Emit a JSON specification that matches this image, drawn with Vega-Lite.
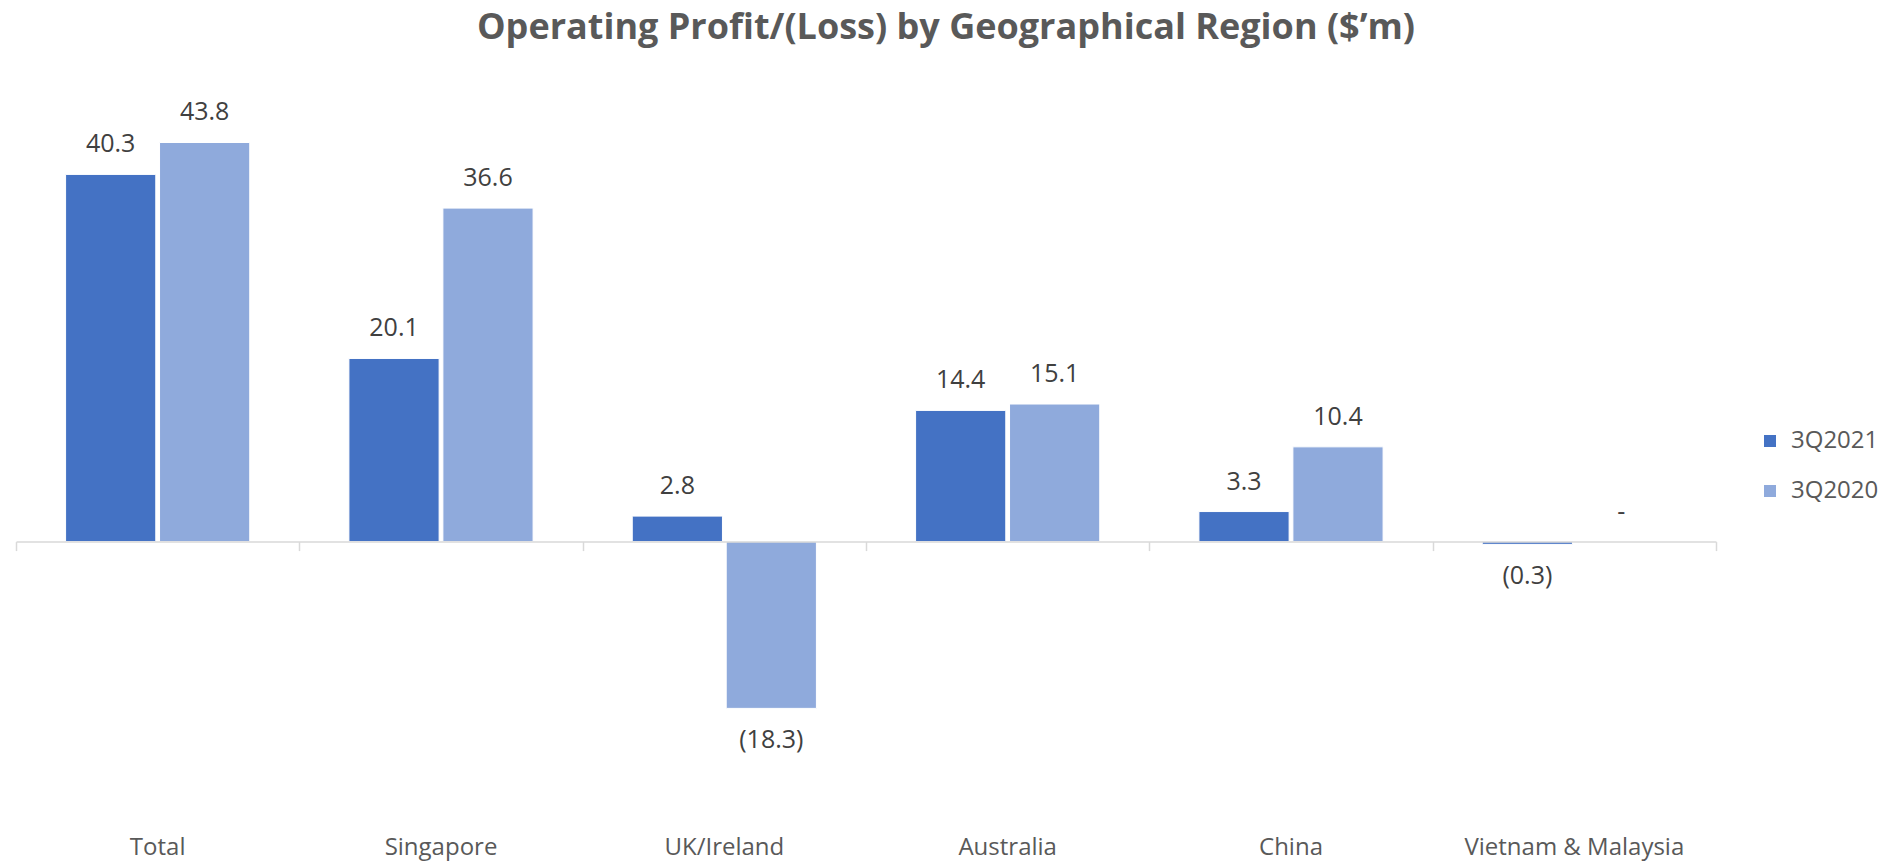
{
  "$schema": "https://vega.github.io/schema/vega-lite/v6.json",
  "autosize": "none",
  "width": 1700,
  "height": 729,
  "padding": {"left": 16, "top": 86, "right": 172, "bottom": 46},
  "background": "white",
  "title": {
    "text": "Operating Profit/(Loss) by Geographical Region ($’m)",
    "font": "Open Sans",
    "fontSize": 36,
    "fontWeight": "bold",
    "color": "#595959",
    "anchor": "middle",
    "dx": 80,
    "offset": 39
  },
  "data": {
    "values": [
      {"region": "Total", "series": "3Q2021", "value": 40.3, "label": "40.3"},
      {"region": "Total", "series": "3Q2020", "value": 43.8, "label": "43.8"},
      {"region": "Singapore", "series": "3Q2021", "value": 20.1, "label": "20.1"},
      {"region": "Singapore", "series": "3Q2020", "value": 36.6, "label": "36.6"},
      {"region": "UK/Ireland", "series": "3Q2021", "value": 2.8, "label": "2.8"},
      {"region": "UK/Ireland", "series": "3Q2020", "value": -18.3, "label": "(18.3)"},
      {"region": "Australia", "series": "3Q2021", "value": 14.4, "label": "14.4"},
      {"region": "Australia", "series": "3Q2020", "value": 15.1, "label": "15.1"},
      {"region": "China", "series": "3Q2021", "value": 3.3, "label": "3.3"},
      {"region": "China", "series": "3Q2020", "value": 10.4, "label": "10.4"},
      {"region": "Vietnam & Malaysia", "series": "3Q2021", "value": -0.3, "label": "(0.3)"},
      {"region": "Vietnam & Malaysia", "series": "3Q2020", "value": 0, "label": "-"}
    ]
  },
  "resolve": {"scale": {"x": "independent"}, "axis": {"x": "independent"}},
  "layer": [
    {
      "mark": {"type": "bar", "stroke": "white", "strokeWidth": 1},
      "encoding": {
        "x": {
          "field": "region", "type": "nominal", "sort": null,
          "scale": {"domain": ["Total", "Singapore", "UK/Ireland", "Australia", "China", "Vietnam & Malaysia"], "paddingInner": 0.35, "paddingOuter": 0.175},
          "axis": {
            "title": null, "orient": "bottom", "domain": false, "ticks": false, "tickSize": 0,
            "labelAngle": 0, "labelFont": "Open Sans", "labelFontSize": 24, "labelColor": "#595959",
            "labelBaseline": "alphabetic", "labelPadding": 39, "labelLimit": 600, "grid": false
          }
        },
        "xOffset": {"field": "series", "type": "nominal", "sort": ["3Q2021", "3Q2020"], "scale": {"domain": ["3Q2021", "3Q2020"], "paddingInner": 0.04}},
        "y": {"field": "value", "type": "quantitative", "scale": {"domain": [-30, 50], "nice": false}, "axis": null},
        "color": {
          "field": "series", "type": "nominal",
          "scale": {"domain": ["3Q2021", "3Q2020"], "range": ["#4472C4", "#8FAADC"]},
          "legend": {
            "title": null, "orient": "none", "legendX": 1742, "legendY": 343,
            "symbolType": "square", "symbolSize": 144, "symbolStrokeWidth": 0, "symbolOpacity": 1,
            "labelFont": "Open Sans", "labelFontSize": 24, "labelColor": "#595959",
            "labelOffset": 9, "rowPadding": 26, "padding": 0
          }
        }
      }
    },
    {
      "transform": [{"filter": "datum.value >= 0"}],
      "mark": {"type": "text", "font": "Open Sans", "fontSize": 25, "color": "#404040", "baseline": "alphabetic", "align": "center", "dy": -22},
      "encoding": {
        "x": {"field": "region", "type": "nominal", "sort": null, "scale": {"domain": ["Total", "Singapore", "UK/Ireland", "Australia", "China", "Vietnam & Malaysia"], "paddingInner": 0.35, "paddingOuter": 0.175}, "axis": null},
        "xOffset": {"field": "series", "type": "nominal", "sort": ["3Q2021", "3Q2020"], "scale": {"domain": ["3Q2021", "3Q2020"], "paddingInner": 0.04}},
        "y": {"field": "value", "type": "quantitative", "scale": {"domain": [-30, 50], "nice": false}, "axis": null},
        "text": {"field": "label"}
      }
    },
    {
      "transform": [{"filter": "datum.value < 0"}],
      "mark": {"type": "text", "font": "Open Sans", "fontSize": 25, "color": "#404040", "baseline": "alphabetic", "align": "center", "dy": 40},
      "encoding": {
        "x": {"field": "region", "type": "nominal", "sort": null, "scale": {"domain": ["Total", "Singapore", "UK/Ireland", "Australia", "China", "Vietnam & Malaysia"], "paddingInner": 0.35, "paddingOuter": 0.175}, "axis": null},
        "xOffset": {"field": "series", "type": "nominal", "sort": ["3Q2021", "3Q2020"], "scale": {"domain": ["3Q2021", "3Q2020"], "paddingInner": 0.04}},
        "y": {"field": "value", "type": "quantitative", "scale": {"domain": [-30, 50], "nice": false}, "axis": null},
        "text": {"field": "label"}
      }
    },
    {
      "mark": {"type": "rule", "opacity": 0},
      "encoding": {
        "x": {
          "field": "region", "type": "nominal", "sort": null,
          "scale": {"domain": ["Total", "Singapore", "UK/Ireland", "Australia", "China", "Vietnam & Malaysia"], "paddingInner": 0, "paddingOuter": 0},
          "axis": {
            "title": null, "orient": "bottom", "offset": -273.4, "labels": false, "zindex": 1,
            "domain": true, "domainColor": "#d9d9d9", "domainWidth": 1.5,
            "ticks": true, "tickColor": "#d9d9d9", "tickWidth": 1.5, "tickSize": 9, "tickBand": "extent", "grid": false
          }
        },
        "y": {"datum": 0, "type": "quantitative"}
      }
    }
  ],
  "config": {"view": {"stroke": null}}
}
